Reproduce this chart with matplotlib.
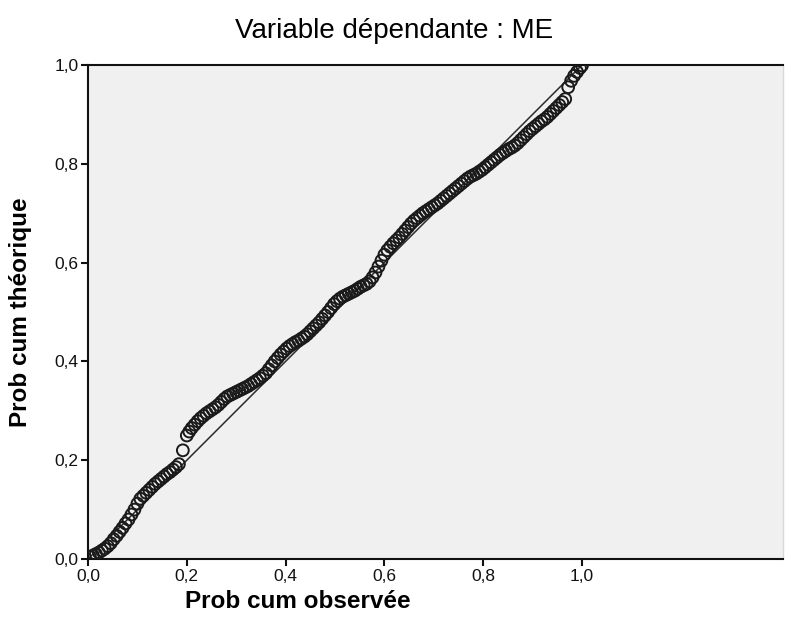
import matplotlib
matplotlib.use("Agg")
import matplotlib.pyplot as plt
from matplotlib.ticker import FuncFormatter

plt.rcParams['font.family'] = ['Liberation Sans', 'DejaVu Sans']

title = "Variable dépendante : ME"
xlabel = "Prob cum observée"
ylabel = "Prob cum théorique"
tick_values = [0.0, 0.2, 0.4, 0.6, 0.8, 1.0]

observed = [
    0.004, 0.010, 0.016, 0.022, 0.028, 0.034, 0.040, 0.046, 0.052, 0.058,
    0.064, 0.070, 0.076, 0.082, 0.088, 0.094, 0.100, 0.106, 0.112, 0.118,
    0.124, 0.130, 0.136, 0.142, 0.148, 0.154, 0.160, 0.166, 0.172, 0.178,
    0.184, 0.192, 0.200, 0.205, 0.210, 0.216, 0.222, 0.228, 0.234, 0.240,
    0.246, 0.252, 0.258, 0.264, 0.270, 0.276, 0.282, 0.288, 0.294, 0.300,
    0.306, 0.312, 0.318, 0.324, 0.330, 0.336, 0.342, 0.348, 0.354, 0.360,
    0.366, 0.372, 0.378, 0.384, 0.390, 0.396, 0.402, 0.408, 0.414, 0.420,
    0.426, 0.432, 0.438, 0.444, 0.450, 0.456, 0.462, 0.468, 0.474, 0.480,
    0.486, 0.492, 0.498, 0.504, 0.510, 0.516, 0.522, 0.528, 0.534, 0.540,
    0.546, 0.552, 0.558, 0.564, 0.570, 0.576, 0.582, 0.588, 0.594, 0.600,
    0.606, 0.612, 0.618, 0.624, 0.630, 0.636, 0.642, 0.648, 0.654, 0.660,
    0.666, 0.672, 0.678, 0.684, 0.690, 0.696, 0.702, 0.708, 0.714, 0.720,
    0.726, 0.732, 0.738, 0.744, 0.750, 0.756, 0.762, 0.768, 0.774, 0.780,
    0.786, 0.792, 0.798, 0.804, 0.810, 0.816, 0.822, 0.828, 0.834, 0.840,
    0.846, 0.852, 0.858, 0.864, 0.870, 0.876, 0.882, 0.888, 0.894, 0.900,
    0.906, 0.912, 0.918, 0.924, 0.930, 0.936, 0.942, 0.948, 0.954, 0.960,
    0.966, 0.972, 0.978, 0.984, 0.990, 0.996, 1.000,
]
expected = [
    0.004, 0.007, 0.010, 0.013, 0.017, 0.021, 0.026, 0.032, 0.040, 0.047,
    0.055, 0.063, 0.072, 0.080, 0.090, 0.100, 0.112, 0.122, 0.128, 0.134,
    0.140, 0.146, 0.152, 0.157, 0.162, 0.167, 0.172, 0.176, 0.181, 0.186,
    0.192, 0.220, 0.250, 0.258, 0.265, 0.272, 0.279, 0.285, 0.290, 0.295,
    0.299, 0.303, 0.307, 0.312, 0.318, 0.324, 0.329, 0.332, 0.335, 0.338,
    0.341, 0.344, 0.347, 0.350, 0.354, 0.358, 0.362, 0.366, 0.371, 0.376,
    0.384, 0.392, 0.400, 0.407, 0.414, 0.420, 0.426, 0.431, 0.435, 0.439,
    0.442, 0.446, 0.450, 0.455, 0.461, 0.467, 0.473, 0.479, 0.486, 0.493,
    0.500, 0.508, 0.516, 0.522, 0.527, 0.531, 0.534, 0.537, 0.540, 0.543,
    0.547, 0.551, 0.554, 0.557, 0.562, 0.570, 0.580, 0.592, 0.604, 0.616,
    0.625, 0.632, 0.639, 0.645, 0.651, 0.658, 0.665, 0.672, 0.679, 0.685,
    0.690, 0.695, 0.700, 0.704, 0.708, 0.712, 0.716, 0.720, 0.725, 0.730,
    0.735, 0.740, 0.745, 0.750, 0.755, 0.760, 0.765, 0.770, 0.774, 0.777,
    0.780, 0.784, 0.788, 0.793, 0.798, 0.803, 0.808, 0.813, 0.818, 0.822,
    0.826, 0.830, 0.833, 0.837, 0.842, 0.848, 0.854, 0.860, 0.866, 0.871,
    0.876, 0.881, 0.886, 0.890, 0.895, 0.901, 0.907, 0.913, 0.919, 0.925,
    0.931, 0.955, 0.968, 0.978, 0.986, 0.994, 0.999,
]
ref_line = [0.0, 1.0]

fig = plt.figure(figsize=(7.87, 6.36), dpi=100)
ax = fig.add_axes([88/787, 1 - 559/636, (783 - 88)/787, (559 - 65)/636])
ax.set_facecolor('#f0f0f0')

ax.plot(ref_line, ref_line, color='#2b2b2b', lw=1.1, zorder=2)
ax.scatter(observed, expected, s=72, facecolors='none', edgecolors='#1a1a1a',
           linewidths=1.4, zorder=3)

ax.set_xlim(0, (783 - 88) / 494)
ax.set_ylim(0, 1)
ax.set_xticks(tick_values)
ax.set_yticks(tick_values)
fmt = FuncFormatter(lambda v, p: f"{v:.1f}".replace('.', ','))
ax.xaxis.set_major_formatter(fmt)
ax.yaxis.set_major_formatter(fmt)
ax.tick_params(direction='out', length=5, width=1.5, labelsize=12.5, colors='#111111', pad=2)

for s in ['left', 'bottom', 'top']:
    ax.spines[s].set_color('#111111')
    ax.spines[s].set_linewidth(1.5)
ax.spines['right'].set_color('#d8d8d8')
ax.spines['right'].set_linewidth(1.0)

fig.text(394/787, 1 - 31/636, title, ha='center', va='center', fontsize=20)
fig.text(298/787, 1 - 601/636, xlabel, ha='center', va='center', fontsize=17.5, fontweight='bold')
fig.text(21/787, 1 - 312/636, ylabel, ha='center', va='center', fontsize=17.5,
         fontweight='bold', rotation=90)

fig.savefig('out.png', dpi=100, facecolor='white')
